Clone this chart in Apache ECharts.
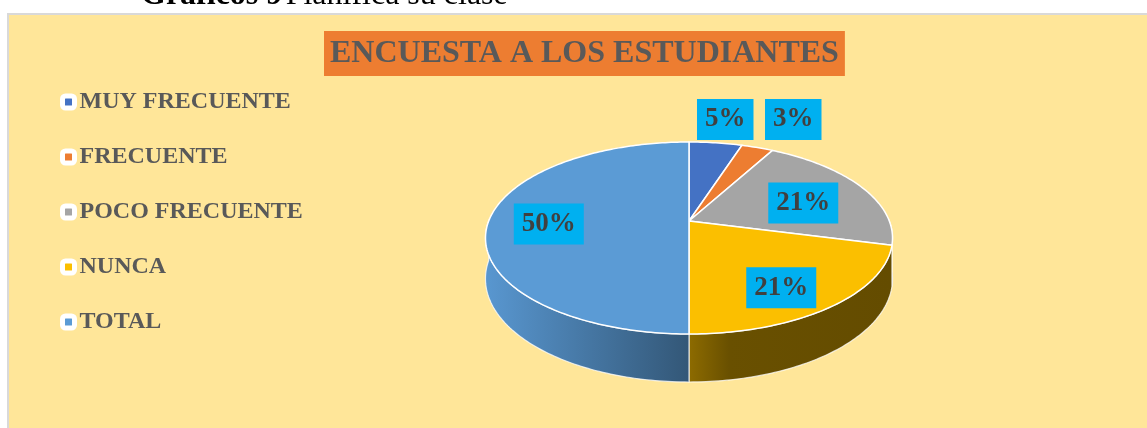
<!DOCTYPE html>
<html>
<head>
<meta charset="utf-8">
<script src="https://cdn.jsdelivr.net/npm/echarts@6/dist/echarts.min.js"></script>
<style>
html,body{margin:0;padding:0;background:#fff;}
#main{width:1147px;height:428px;}
</style>
</head>
<body>
<div id="main"></div>
<script>
// ---- data ----
const categories = ['MUY FRECUENTE', 'FRECUENTE', 'POCO FRECUENTE', 'NUNCA', 'TOTAL'];
const values = [5, 3, 21, 21, 50];
const chartTitle = 'ENCUESTA A LOS ESTUDIANTES';
const headerBold = 'Gráficos 9';
const headerText = 'Planifica su clase';

// ---- styles ----
const sliceColors = ['#4472C4', '#ED7D31', '#A5A5A5', '#FBBF00', '#5B9BD5'];
const SERIF = '"Liberation Serif", "Times New Roman", serif';

// ---- 3D pie geometry (perspective projection of a tilted disk) ----
const G = { cx: 689, cy: 221, a: 200.3, b: 93, k: -0.177, t: 39.5 };
// label placement (radius factor on the disk, vertical nudge) per slice
const labelR = [1.45, 1.45, 0.65, 0.68, 0.7];
const labelDy = [0, 0, 5, 11.5, 3];

function proj(theta, r, drop) {
  const u = r * Math.sin(theta), v = -r * Math.cos(theta);
  const d = 1 + G.k * v;
  return [G.cx + G.a * u / d, G.cy + (G.b * v + (drop || 0)) / d];
}
const total = values.reduce((s, v) => s + v, 0);
const starts = [];
{ let acc = 0; values.forEach(v => { starts.push(acc / total * Math.PI * 2); acc += v; }); }

function shade(hex, f) {
  const n = parseInt(hex.slice(1), 16);
  const r = Math.round(((n >> 16) & 255) * f), g = Math.round(((n >> 8) & 255) * f), b = Math.round((n & 255) * f);
  return 'rgb(' + r + ',' + g + ',' + b + ')';
}

// label layout
const labelPos = [];
{
  let prevRight = -1e9;
  values.forEach((v, i) => {
    const mid = starts[i] + v / total * Math.PI;
    const p = proj(mid, labelR[i], 0);
    if (v / total < 0.1) {
      const w = 57;
      let x = p[0];
      if (x - w / 2 < prevRight + 11) x = prevRight + 11 + w / 2;
      prevRight = x + w / 2;
      labelPos.push([x, 119.5]);
    } else {
      labelPos.push([p[0], p[1] + labelDy[i]]);
    }
  });
}

function renderItem(params, api) {
  const i = params.dataIndex;
  const s = starts[i];
  const e = s + api.value(0) / total * Math.PI * 2;
  const col = sliceColors[i];
  const children = [];
  const step = Math.PI / 180;
  // side wall (front half)
  const ss = Math.max(s, Math.PI / 2), ee = Math.min(e, Math.PI * 1.5);
  if (ee > ss) {
    const pts = [];
    const n = Math.max(2, Math.ceil((ee - ss) / step));
    for (let j = 0; j <= n; j++) pts.push(proj(ss + (ee - ss) * j / n, 1, 0));
    for (let j = n; j >= 0; j--) pts.push(proj(ss + (ee - ss) * j / n, 1, G.t));
    const grad = new echarts.graphic.LinearGradient(G.cx - G.a, 0, G.cx + G.a, 0, [
      { offset: 0, color: shade(col, 0.97) },
      { offset: 0.5, color: shade(col, 0.56) },
      { offset: 0.6, color: shade(col, 0.42) },
      { offset: 1, color: shade(col, 0.40) }
    ], true);
    children.push({
      type: 'polygon', z2: 1,
      shape: { points: pts },
      style: { fill: grad, stroke: 'rgba(255,255,255,0.75)', lineWidth: 1.2 }
    });
  }
  // top face
  const top = [[G.cx, G.cy]];
  const n2 = Math.max(2, Math.ceil((e - s) / step));
  for (let j = 0; j <= n2; j++) top.push(proj(s + (e - s) * j / n2, 1, 0));
  children.push({
    type: 'polygon', z2: 10,
    shape: { points: top },
    style: { fill: col, stroke: '#ffffff', lineWidth: 1.5, lineJoin: 'round' }
  });
  // label
  const pct = Math.round(api.value(0) / total * 100) + '%';
  children.push({
    type: 'text', z2: 30,
    x: labelPos[i][0], y: labelPos[i][1],
    style: {
      text: pct, align: 'center', verticalAlign: 'middle',
      fontFamily: SERIF, fontWeight: 'bold', fontSize: 27,
      fill: '#404040', backgroundColor: '#00B0F0', padding: [7, 8, 7, 8]
    }
  });
  return { type: 'group', children: children };
}

const chart = echarts.init(document.getElementById('main'), null, { renderer: 'canvas' });
chart.setOption({
  backgroundColor: '#ffffff',
  animation: false,
  color: sliceColors,
  graphic: [
    {
      type: 'rect', z: -10, silent: true,
      shape: { x: 8, y: 14, width: 1160, height: 440 },
      style: { fill: '#FFE699', stroke: '#D9D9D9', lineWidth: 2 }
    },
    {
      type: 'text', z: -5, x: 141, y: -20, silent: true,
      style: {
        text: '{b|' + headerBold + '} {n|' + headerText + '}',
        rich: {
          b: { fontFamily: SERIF, fontWeight: 'bold', fontSize: 32, fill: '#000' },
          n: { fontFamily: SERIF, fontSize: 32, fill: '#000' }
        },
        verticalAlign: 'top'
      }
    }
  ],
  title: {
    text: chartTitle,
    left: 324, top: 31,
    backgroundColor: '#ED7D31',
    padding: [7, 6, 6, 6],
    textStyle: { fontFamily: SERIF, fontWeight: 'bold', fontSize: 32, color: '#595959', lineHeight: 32 }
  },
  legend: {
    orient: 'vertical',
    left: 55, top: 85,
    itemGap: 31,
    itemWidth: 12, itemHeight: 12,
    icon: 'roundRect',
    itemStyle: { borderColor: '#ffffff', borderWidth: 5 },
    textStyle: { fontFamily: SERIF, fontWeight: 'bold', fontSize: 24, color: '#595959', lineHeight: 24 },
    data: categories
  },
  series: [
    {
      // provides legend entries only (drawn off-canvas)
      type: 'pie', silent: true, radius: 1, center: [-200, -200],
      label: { show: false }, labelLine: { show: false },
      data: categories.map((c, i) => ({ name: c, value: values[i] }))
    },
    {
      type: 'custom', coordinateSystem: 'none', silent: true,
      renderItem: renderItem,
      data: values.map((v, i) => ({ name: categories[i], value: [v] }))
    }
  ]
});
</script>
</body>
</html>
